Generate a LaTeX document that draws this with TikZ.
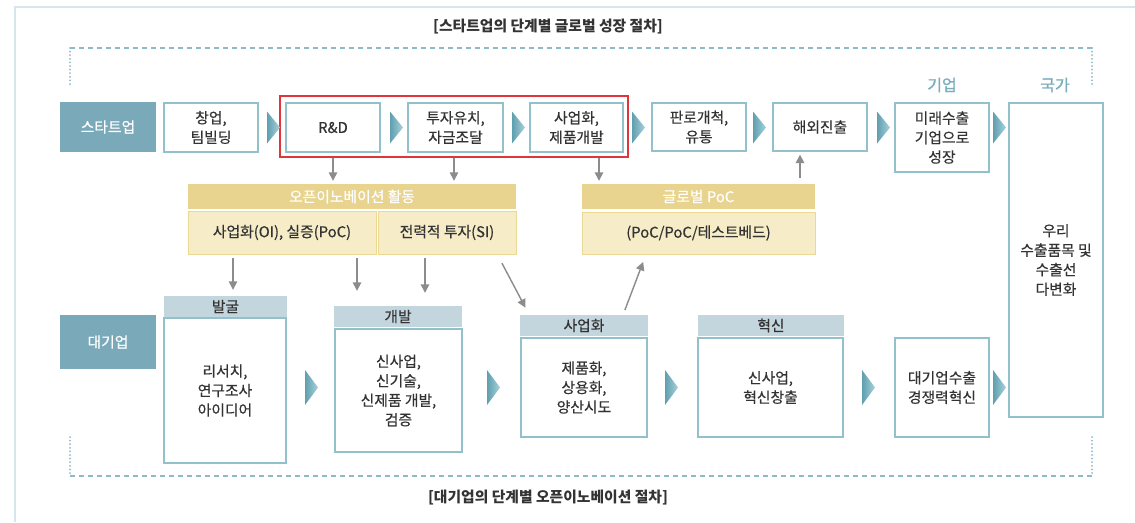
\documentclass[tikz,border=0pt]{standalone}
\usepackage{fontspec}
\setmainfont{Noto Sans CJK KR}
\newfontfamily\medfont[FakeBold=0.45]{Noto Sans CJK KR}
\newfontfamily\semifont[FakeBold=1.2]{Noto Sans CJK KR}
\usetikzlibrary{arrows.meta}
\definecolor{boxB}{HTML}{93C1CB}
\definecolor{lblF}{HTML}{7AAAB9}
\definecolor{yH}{HTML}{E8D48F}
\definecolor{yC}{HTML}{F6EDC8}
\definecolor{yB}{HTML}{EBD893}
\definecolor{gH}{HTML}{C3D6DE}
\definecolor{arrG}{HTML}{8C8C8C}
\definecolor{txt}{HTML}{333333}
\definecolor{redB}{HTML}{E0353B}
\definecolor{dashC}{HTML}{8CBAC6}
\definecolor{frameC}{HTML}{D6E6EC}
\definecolor{chevL}{HTML}{5F9FB0}
\definecolor{chevR}{HTML}{A9D1DA}
\definecolor{tealT}{HTML}{7AAEBC}
\newcommand\boxfont{\medfont\fontsize{14.8}{19.5}\selectfont}
\newcommand\chevr[3]{\shade[left color=chevL,right color=chevR] (#1,#2-#3/2) -- (#1+13,#2) -- (#1,#2+#3/2) -- cycle;}
\tikzset{
 sbox/.style={draw=boxB, line width=1.3pt, fill=white, align=center, text=txt, font=\boxfont, inner sep=0pt},
 lbl/.style={fill=lblF, text=white, font=\boxfont, inner sep=0pt},
 yhead/.style={fill=yH, text=white, font=\boxfont, inner sep=0pt},
 ycell/.style={fill=yC, draw=yB, line width=0.8pt, text=txt, font=\boxfont, inner sep=0pt},
 ghead/.style={fill=gH, text=txt, font=\boxfont, inner sep=0pt},
 garr/.style={draw=arrG, line width=1.4pt, -{Triangle[width=8.5pt,length=8.5pt]}},
 dashl/.style={draw=dashC, line width=1.4pt, dash pattern=on 5pt off 4pt},
 dotl/.style={draw=dashC, line width=2pt, line cap=round, dash pattern=on 0pt off 3.6pt},
 ttl/.style={font=\fontsize{14.8}{17}\selectfont\bfseries, text=txt},
 tlab/.style={font=\semifont\fontsize{16}{18}\selectfont, text=tealT},
}
\begin{document}
\begin{tikzpicture}[x=1pt,y=-1pt]
\useasboundingbox (0,0) rectangle (1135,522);
\fill[white] (0,0) rectangle (1135,522);
% outer frame
\draw[frameC, line width=1.5pt] (15,522) -- (15,7) -- (1135,7);
% dashed frame
\draw[dashl] (70,48) -- (1092,48);
\draw[dashl] (70,476) -- (1092,476);
\draw[dotl] (70,48) -- (70,86);
\draw[dotl] (1092,48) -- (1092,86);
\draw[dotl] (70,437) -- (70,476);
\draw[dotl] (1092,437) -- (1092,476);
% titles
\node[ttl] (t1) at (548,27) {[스타트업의 단계별 글로벌 성장 절차]};
\node[ttl] (t2) at (548,498) {[대기업의 단계별 오픈이노베이션 절차]};
% startup row
\node[lbl, minimum width=96pt, minimum height=50pt] (lblS) at (108,127) {스타트업};
\node[sbox, minimum width=94pt, minimum height=49pt] (s1) at (211,127.5) {창업,\\팀빌딩};
\node[sbox, minimum width=94pt, minimum height=49pt] (rd) at (333,127.5) {R\&D};
\node[sbox, minimum width=95pt, minimum height=49pt] (inv) at (455.5,127.5) {투자유치,\\자금조달};
\node[sbox, minimum width=93pt, minimum height=49pt] (com) at (576.5,127.5) {사업화,\\제품개발};
\node[sbox, minimum width=94pt, minimum height=48pt] (sales) at (699,127) {판로개척,\\유통};
\node[sbox, minimum width=94pt, minimum height=48pt] (over) at (820,127) {해외진출};
\node[sbox, minimum width=94pt, minimum height=69pt] (fut) at (942,137.5) {미래수출\\기업으로\\성장};
\node[sbox, minimum width=94pt, minimum height=314pt] (nat) at (1056,260) {우리\\수출품목 및\\수출선\\다변화};
\node[draw=redB, line width=1.6pt, minimum width=348pt, minimum height=61pt, inner sep=0pt] (red) at (454,126.5) {};
\node[tlab] (lc) at (942,85) {기업};
\node[tlab] (ln) at (1055,85) {국가};
\chevr{267}{127.5}{32}
\chevr{390}{127.5}{32}
\chevr{512}{127.5}{32}
\chevr{632}{127.5}{32}
\chevr{753}{127.5}{32}
\chevr{877}{127.5}{32}
\chevr{993}{127.5}{32}
% yellow blocks
\node[yhead, minimum width=328pt, minimum height=25pt] (oiH) at (352,196.5) {오픈이노베이션 활동};
\node[ycell, minimum width=188pt, minimum height=43pt] (oi1) at (282,232.5) {사업화(OI), 실증(PoC)};
\node[ycell, minimum width=138pt, minimum height=43pt] (oi2) at (447,232.5) {전력적 투자(SI)};
\node[yhead, minimum width=233pt, minimum height=25pt] (pocH) at (698.5,196.5) {글로벌 PoC};
\node[ycell, minimum width=233pt, minimum height=42pt] (poc1) at (698.5,233) {(PoC/PoC/테스트베드)};
% large company row
\node[lbl, minimum width=96pt, minimum height=54pt] (lblB) at (108,342) {대기업};
\node[ghead, minimum width=123pt, minimum height=21pt] (h1) at (225.5,306.5) {발굴};
\node[sbox, minimum width=122pt, minimum height=145pt] (b1) at (225,390.5) {리서치,\\연구조사\\아이디어};
\node[ghead, minimum width=128pt, minimum height=21pt] (h2) at (398,316.5) {개발};
\node[sbox, minimum width=127pt, minimum height=123pt] (b2) at (398.5,390.5) {신사업,\\신기술,\\신제품 개발,\\검증};
\node[ghead, minimum width=128pt, minimum height=21pt] (h3) at (584,325.5) {사업화};
\node[sbox, minimum width=126pt, minimum height=99pt] (b3) at (584,387.5) {제품화,\\상용화,\\양산시도};
\node[ghead, minimum width=146pt, minimum height=21pt] (h4) at (771,325.5) {혁신};
\node[sbox, minimum width=145pt, minimum height=99pt] (b4) at (770.5,387.5) {신사업,\\혁신창출};
\node[sbox, minimum width=94pt, minimum height=99pt] (b5) at (942,387.5) {대기업수출\\경쟁력혁신};
\chevr{305}{387.5}{35}
\chevr{487}{387.5}{35}
\chevr{665}{387.5}{35}
\chevr{862}{387.5}{35}
\chevr{993}{387.5}{35}
% arrows
\draw[garr, shorten >=3pt] (rd.south |- red.south) -- (rd.south |- oiH.north);
\draw[garr, shorten >=3pt] (454,0 |- red.south) -- (454,0 |- oiH.north);
\draw[garr, shorten >=3pt] (599,0 |- red.south) -- (599,0 |- pocH.north);
\draw[garr, shorten <=6pt, shorten >=3pt] (800,0 |- pocH.north) -- (800,0 |- over.south);
\draw[garr, shorten <=4pt, shorten >=6pt] (233,0 |- oi1.south) -- (233,0 |- h1.north);
\draw[garr, shorten <=4pt, shorten >=15pt] (357,0 |- oi1.south) -- (357,0 |- h2.north);
\draw[garr, shorten <=4pt, shorten >=13pt] (425,0 |- oi2.south) -- (425,0 |- h2.north);
\draw[garr, shorten <=10pt, shorten >=8pt] (497.3,0 |- oi2.south) -- (529.2,0 |- h3.north);
\draw[garr, shorten <=5pt, shorten >=8pt] (623.1,0 |- h3.north) -- (646,0 |- poc1.south);
\end{tikzpicture}
\end{document}
